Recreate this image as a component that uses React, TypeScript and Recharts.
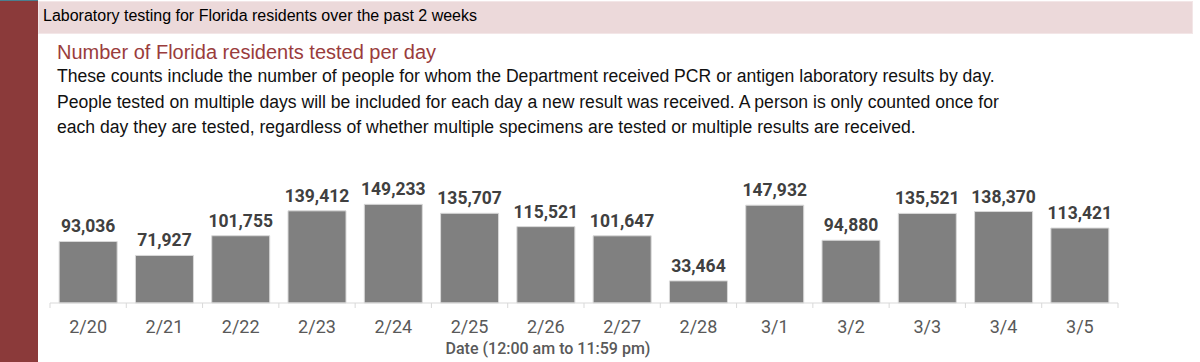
import React from "react";
import { BarChart, Bar, XAxis, YAxis, LabelList } from "recharts";

const days = ["2/20", "2/21", "2/22", "2/23", "2/24", "2/25", "2/26", "2/27", "2/28", "3/1", "3/2", "3/3", "3/4", "3/5"];
const tested = [93036, 71927, 101755, 139412, 149233, 135707, 115521, 101647, 33464, 147932, 94880, 135521, 138370, 113421];

const title = "Laboratory testing for Florida residents over the past 2 weeks";
const subtitle = "Number of Florida residents tested per day";
const notes = [
  "These counts include the number of people for whom the Department received PCR or antigen laboratory results by day.",
  "People tested on multiple days will be included for each day a new result was received. A person is only counted once for",
  "each day they are tested, regardless of whether multiple specimens are tested or multiple results are received.",
];
const axisTitle = "Date (12:00 am to 11:59 pm)";

const data = days.map((d, i) => ({ day: d, tested: tested[i] }));

const PLOT_LEFT = 50;
const PLOT_RIGHT = 1118;
const BAND = (PLOT_RIGHT - PLOT_LEFT) / days.length;

const DayTick = (props: any) => {
  const { x, y, payload, index } = props;
  const axisY = y - 8;
  return (
    <g>
      <line x1={x - BAND / 2} x2={x - BAND / 2} y1={axisY} y2={axisY + 5} stroke="#d9d9d9" />
      {index === days.length - 1 && (
        <line x1={x + BAND / 2} x2={x + BAND / 2} y1={axisY} y2={axisY + 5} stroke="#d9d9d9" />
      )}
      <text x={x} y={axisY + 30} textAnchor="middle" fill="#595959" fontSize={18} fontFamily="Roboto">
        {payload.value}
      </text>
    </g>
  );
};

const fmt = (v: any) => Number(v).toLocaleString("en-US");

export default function App() {
  return (
    <div style={{ position: "absolute", left: 0, top: 0, width: 1200, height: 362, background: "#fff", overflow: "hidden" }}>
      <div style={{ position: "absolute", left: 0, top: 0, width: 38, height: 362, background: "#8b3a3a" }} />
      <div style={{ position: "absolute", left: 0, top: 0, width: 38, height: 1, background: "#4a7f8f" }} />
      <div
        style={{
          position: "absolute",
          left: 38,
          top: 1,
          width: 1153,
          height: 31,
          background: "#ecd9da",
          border: "1px solid #f3e6e7",
        }}
      />
      <div style={{ position: "absolute", left: 43, top: 7, fontFamily: "'Liberation Sans', Arial", fontSize: 16, color: "#000", whiteSpace: "nowrap" }}>
        {title}
      </div>
      <div style={{ position: "absolute", left: 57, top: 41, fontFamily: "'Liberation Sans', Arial", fontSize: 20, color: "#9a3c3c", whiteSpace: "nowrap" }}>
        {subtitle}
      </div>
      {notes.map((n, i) => (
        <div
          key={i}
          style={{ position: "absolute", left: 57, top: 66 + i * 25.5, fontFamily: "'Liberation Sans', Arial", fontSize: 17.6, color: "#111", whiteSpace: "nowrap" }}
        >
          {n}
        </div>
      ))}
      <div style={{ position: "absolute", left: 0, top: 0 }}>
        <BarChart
          width={1200}
          height={362}
          data={data}
          margin={{ top: 184, bottom: 0, left: PLOT_LEFT, right: 1200 - PLOT_RIGHT }}
          barCategoryGap="12%"
        >
          <XAxis dataKey="day" axisLine={{ stroke: "#d9d9d9" }} tickLine={false} tick={<DayTick />} interval={0} height={59} />
          <YAxis hide domain={[0, 180000]} />
          <Bar dataKey="tested" fill="#808080" stroke="#d9d9d9" strokeWidth={1} isAnimationActive={false}>
            <LabelList dataKey="tested" position="top" offset={9} formatter={fmt} fill="#404040" fontSize={17.5} fontWeight="bold" fontFamily="Roboto" />
          </Bar>
        </BarChart>
      </div>
      <div style={{ position: "absolute", left: 0, width: 1096, top: 339, textAlign: "center", fontFamily: "Roboto", fontSize: 16, fontWeight: 500, color: "#595959", whiteSpace: "nowrap" }}>
        {axisTitle}
      </div>
    </div>
  );
}
